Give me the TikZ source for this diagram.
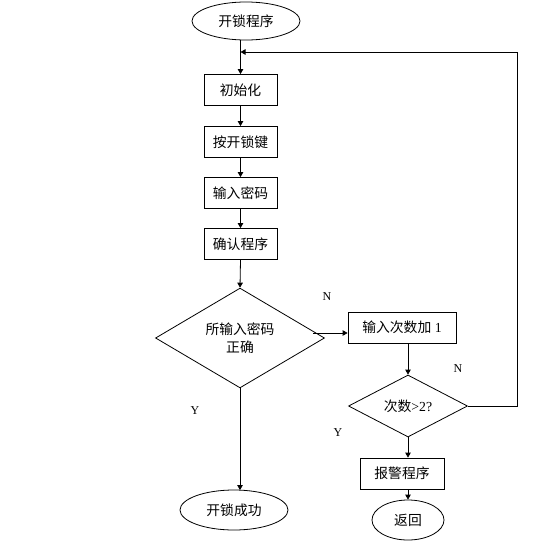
\documentclass[tikz,border=0pt]{standalone}
\usepackage{fontspec}
\setmainfont{Liberation Serif}
\newfontfamily\cjk{Noto Sans CJK SC}
\usetikzlibrary{shapes.geometric,arrows.meta}
\tikzset{
  base/.style={draw, line width=0.8pt, inner sep=0pt, font=\fontsize{13.8}{16}\selectfont},
  procbox/.style={base, rectangle, minimum height=31pt},
  term/.style={base, ellipse},
  decide/.style={base, diamond, align=center},
  arr/.style={line width=0.8pt, -{Triangle[length=5pt,width=5.5pt]}},
  ln/.style={line width=0.8pt},
  lbl/.style={font=\fontsize{12}{14}\selectfont, inner sep=0pt}
}
\begin{document}
\begin{tikzpicture}[x=1pt,y=-1pt]
\useasboundingbox (0,0) rectangle (552,552);
\node[term, minimum width=108pt, minimum height=38pt] (start) at (246,21) {\cjk 开锁程序};
\node[procbox, minimum width=73pt] (init) at (240.5,90) {\cjk 初始化};
\node[procbox, minimum width=73pt] (key) at (240.5,142) {\cjk 按开锁键};
\node[procbox, minimum width=73pt] (pwd) at (240.5,193) {\cjk 输入密码};
\node[procbox, minimum width=73pt] (conf) at (240.5,244) {\cjk 确认程序};
\node[decide, minimum width=169pt, minimum height=93pt] (dia1) at (240,338) {\cjk 所输入密码\\[2pt]\cjk 正确};
\node[procbox, minimum width=108pt] (cnt) at (402,327.5) {{\cjk 输入次数加} 1};
\node[decide, minimum width=119pt, minimum height=62pt] (dia2) at (408,406) {{\cjk 次数}>2?};
\node[procbox, minimum width=84pt] (alarm) at (402,473.5) {\cjk 报警程序};
\node[term, minimum width=72pt, minimum height=40pt] (ret) at (408,520) {\cjk 返回};
\node[term, minimum width=108pt, minimum height=40pt] (ok) at (234,510) {\cjk 开锁成功};

\node[lbl] (n1l) at (327,297) {N};
\node[lbl] (n2l) at (458,369) {N};
\node[lbl] (y1l) at (195,411) {Y};
\node[lbl] (y2l) at (338,433) {Y};

\coordinate (lp) at (517,52);
\coordinate (d1out) at ([xshift=-12pt,yshift=5pt]dia1.east);

\draw[arr] (start.south -| init.north) -- (init.north);
\draw[arr] (init.south) -- (key.north);
\draw[arr] (key.south) -- (pwd.north);
\draw[arr] (pwd.south) -- (conf.north);
\draw[arr] (conf.south) -- (dia1.north);
\draw[arr] (d1out) -- (d1out -| cnt.west);
\draw[arr] (cnt.south -| dia2.north) -- (dia2.north);
\draw[arr] (dia2.south) -- (dia2.south |- alarm.north);
\draw[arr] (alarm.south -| ret.north) -- (ret.north);
\draw[arr] (dia2.east) -| (lp) -- (lp -| init.north);
\draw[arr] (dia1.south) -- ([yshift=-0.5pt]dia1.south |- ok.north);
\end{tikzpicture}
\end{document}
